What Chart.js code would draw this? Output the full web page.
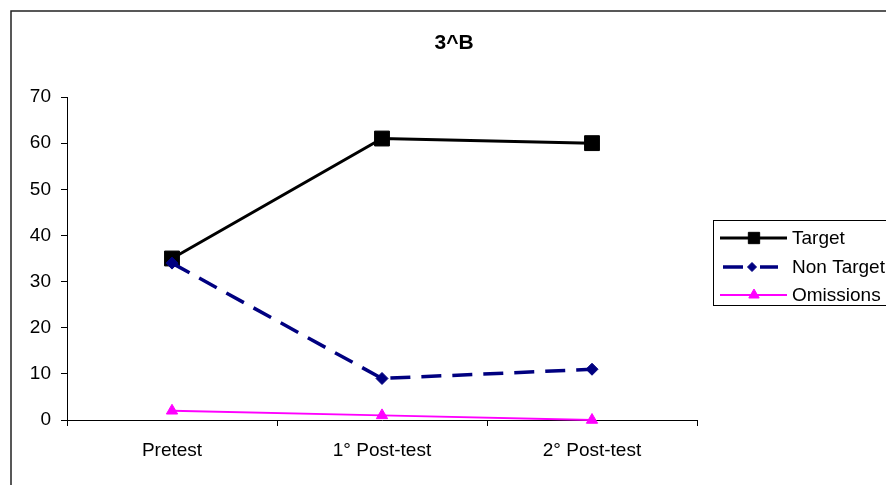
<!DOCTYPE html>
<html>
<head>
<meta charset="utf-8">
<style>
  html, body { margin: 0; padding: 0; background: #fff; overflow: hidden; }
  #wrap { width: 886px; height: 485px; overflow: hidden; }
</style>
<script src="https://cdn.jsdelivr.net/npm/chart.js@4"></script>
</head>
<body>
<div id="wrap"><canvas id="chart3B" width="908" height="485"></canvas></div>
<script>
const chartTitle = "3^B";
const categories = ["Pretest", "1° Post-test", "2° Post-test"];
const targetValues = [35, 61, 60];
const nonTargetValues = [34, 9, 11];
const omissionValues = [2, 1, 0];
const yTicks = [0, 10, 20, 30, 40, 50, 60, 70];

const font = "Arial, 'Liberation Sans', sans-serif";

// outer frame + title (title is centred on the frame, not the plot)
const framePlugin = {
    id: "frame",
    beforeDraw(chart) {
        const ctx = chart.ctx;
        ctx.save();
        ctx.strokeStyle = "#222";
        ctx.lineWidth = 1.5;
        ctx.strokeRect(11, 11, 886, 600);
        ctx.fillStyle = "#000";
        ctx.font = "bold 21px " + font;
        ctx.textAlign = "center";
        ctx.textBaseline = "middle";
        ctx.fillText(chartTitle, 454, 43);
        ctx.restore();
    }
};

// excel style legend: line + marker + label
const legendRadius = [8, 4.5, 6];
const legendPlugin = {
    id: "boxLegend",
    afterDraw(chart) {
        const ctx = chart.ctx;
        const rows = [238, 267, 295];
        ctx.save();
        ctx.strokeStyle = "#000";
        ctx.lineWidth = 1;
        ctx.strokeRect(713.5, 220.5, 300, 85);

        chart.data.datasets.forEach((ds, i) => {
            const y = rows[i];
            ctx.strokeStyle = ds.borderColor;
            ctx.lineWidth = ds.borderWidth;
            ctx.beginPath();
            if (ds.borderDash) {
                ctx.moveTo(723, y); ctx.lineTo(743, y);
                ctx.moveTo(760, y); ctx.lineTo(778, y);
            } else {
                ctx.moveTo(720, y); ctx.lineTo(787, y);
            }
            ctx.stroke();

            ctx.fillStyle = ds.pointBackgroundColor;
            ctx.strokeStyle = ds.pointBorderColor;
            ctx.lineWidth = ds.pointBorderWidth;
            Chart.helpers.drawPoint(ctx, {
                pointStyle: ds.pointStyle,
                radius: legendRadius[i],
                rotation: 0,
                borderWidth: ds.pointBorderWidth
            }, ds.borderDash ? 752 : 754, y);

            ctx.fillStyle = "#000";
            ctx.font = "19px " + font;
            ctx.textBaseline = "middle";
            ctx.textAlign = "left";
            ctx.fillText(ds.label, 792, y + 1);
        });
        ctx.restore();
    }
};

const ctx = document.getElementById("chart3B").getContext("2d");

new Chart(ctx, {
    type: "line",
    data: {
        labels: categories,
        datasets: [{
            label: "Target",
            data: targetValues,
            borderColor: "#000000",
            backgroundColor: "#000000",
            borderWidth: 3,
            pointStyle: "rect",
            pointRadius: 10.5,
            pointBorderWidth: 1,
            pointBackgroundColor: "#000000",
            pointBorderColor: "#000000",
            tension: 0,
            clip: false,
            order: 2
        }, {
            label: "Non Target",
            data: nonTargetValues,
            borderColor: "#000080",
            backgroundColor: "#000080",
            borderWidth: 3.5,
            borderDash: [20, 11],
            pointStyle: "rectRot",
            pointRadius: 6,
            pointBorderWidth: 1,
            pointBackgroundColor: "#000080",
            pointBorderColor: "#000080",
            tension: 0,
            clip: false,
            order: 1
        }, {
            label: "Omissions",
            data: omissionValues,
            borderColor: "#ff00ff",
            backgroundColor: "#ff00ff",
            borderWidth: 1.8,
            pointStyle: "triangle",
            pointRadius: 6.5,
            pointBorderWidth: 1,
            pointBackgroundColor: "#ff00ff",
            pointBorderColor: "#ff00ff",
            tension: 0,
            clip: false,
            order: 0
        }]
    },
    options: {
        responsive: false,
        animation: false,
        devicePixelRatio: 1,
        layout: {
            padding: { left: 0, top: 97, right: 211, bottom: 0 }
        },
        plugins: {
            legend: { display: false },
            tooltip: { enabled: false },
            title: { display: false }
        },
        scales: {
            x: {
                offset: true,
                grid: {
                    offset: true,
                    drawOnChartArea: false,
                    drawTicks: true,
                    tickLength: 6,
                    color: "#000"
                },
                border: { display: true, color: "#000", width: 1 },
                ticks: {
                    color: "#000",
                    font: { family: font, size: 19 },
                    padding: 13,
                    maxRotation: 0
                },
                afterFit(scale) { scale.height = 65; }
            },
            y: {
                min: 0,
                max: 70,
                afterBuildTicks(scale) {
                    scale.ticks = yTicks.map(v => ({ value: v }));
                },
                grid: {
                    drawOnChartArea: false,
                    drawTicks: true,
                    tickLength: 6,
                    color: "#000"
                },
                border: { display: true, color: "#000", width: 1 },
                ticks: {
                    color: "#000",
                    font: { family: font, size: 19 },
                    padding: 10
                },
                afterFit(scale) { scale.width = 67; }
            }
        }
    },
    plugins: [framePlugin, legendPlugin]
});
</script>
</body>
</html>
